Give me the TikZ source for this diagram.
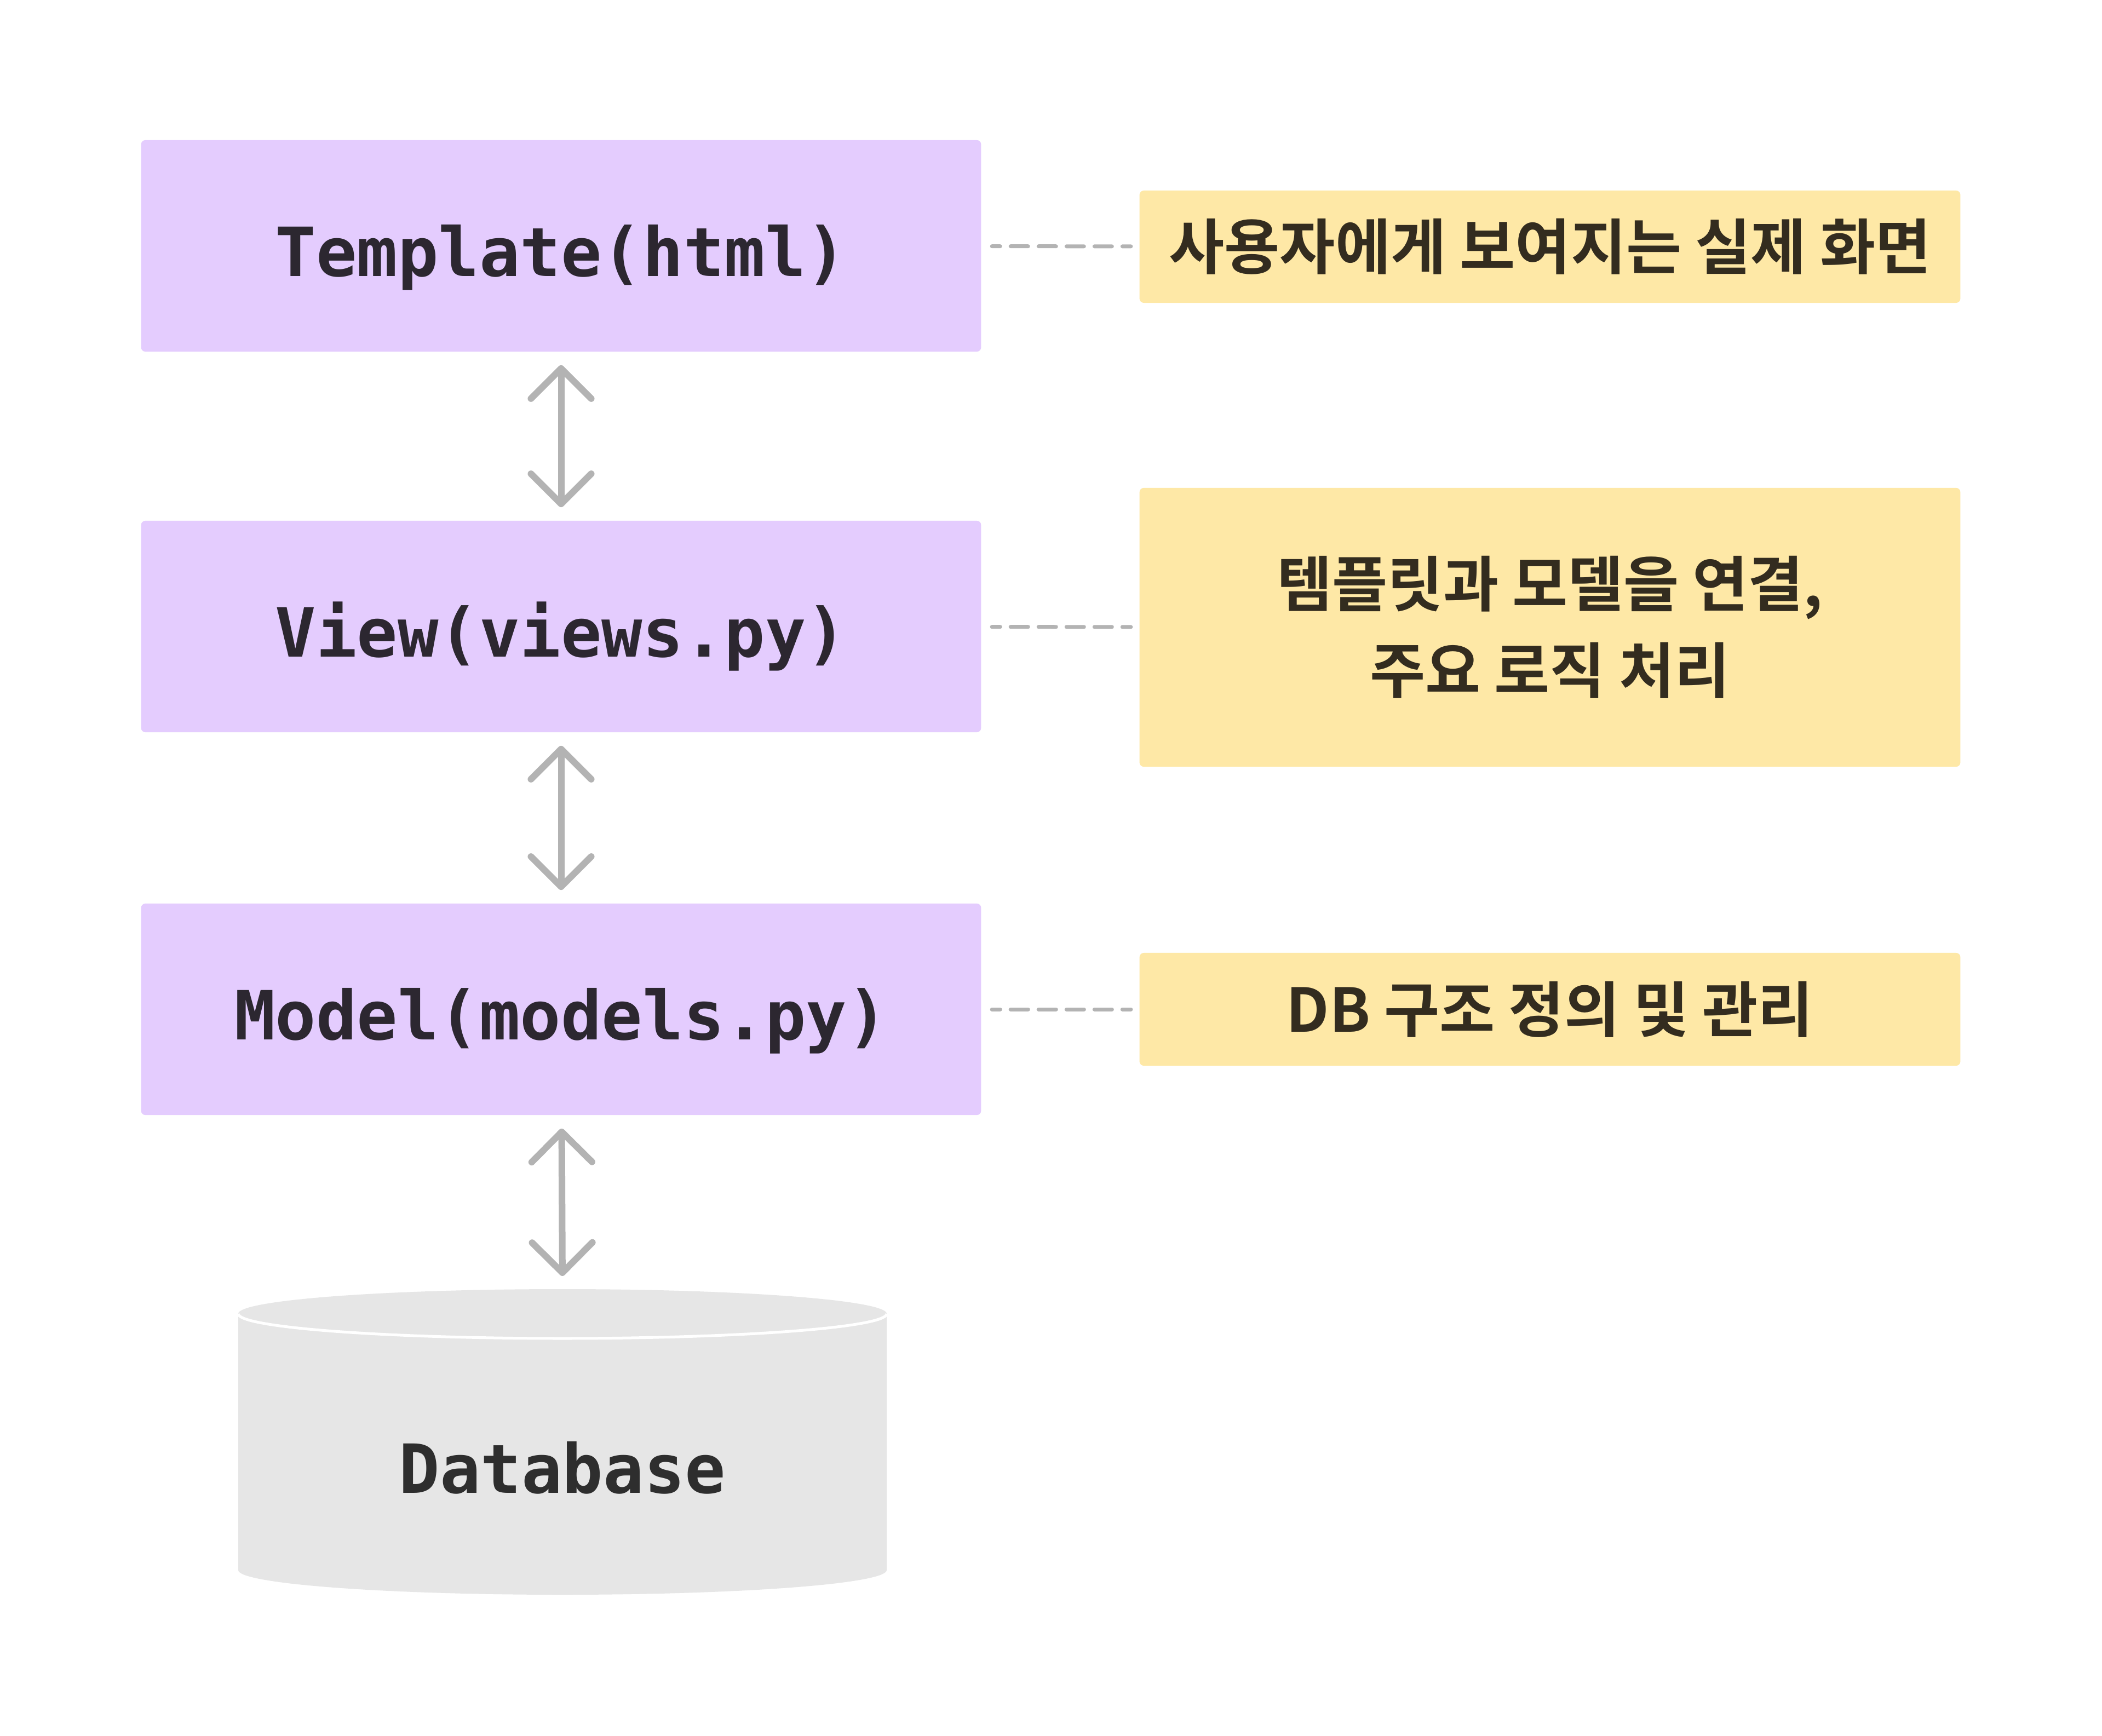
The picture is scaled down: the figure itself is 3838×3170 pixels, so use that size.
\documentclass[tikz,border=0pt]{standalone}
\usepackage{fontspec}
\usetikzlibrary{arrows.meta}
\newfontfamily\codefont{DejaVu Sans Mono}
\newfontfamily\hangulfont{Noto Sans CJK KR}[BoldFont={Noto Sans CJK KR Bold}]
\definecolor{layerfill}{HTML}{E4CCFE}
\definecolor{notefill}{HTML}{FEE8A6}
\definecolor{dbfill}{HTML}{E6E6E6}
\definecolor{linkgray}{HTML}{B3B3B3}
\definecolor{codetext}{HTML}{2C2730}
\definecolor{dbtext}{HTML}{2E2E2E}
\definecolor{notetext}{HTML}{332C1F}
\tikzset{
	layer/.style={fill=layerfill, rounded corners=0.08cm, minimum width=15.33cm, minimum height=3.86cm, text=codetext, text height=31.6pt, text depth=0pt, font=\codefont\bfseries\fontsize{35.2}{40}\selectfont},
	note/.style={fill=notefill, rounded corners=0.08cm, minimum width=14.98cm, text=notetext, align=center, font=\hangulfont\bfseries\fontsize{31.3}{45}\selectfont},
	dblabel/.style={text=dbtext, font=\codefont\bfseries\fontsize{35.2}{40}\selectfont},
	biarrow/.style={draw=linkgray, line width=0.12cm, {Straight Barb[length=0.55cm,width=1.1cm,round]}-{Straight Barb[length=0.55cm,width=1.1cm,round]}, shorten <=0.24cm, shorten >=0.24cm},
	guide/.style={draw=linkgray, line width=0.07cm, line cap=round, dash pattern=on 0.32cm off 0.19cm, dash phase=0.17cm, shorten <=0.19cm, shorten >=0.15cm}
}

\begin{document}
\begin{tikzpicture}[x=0.01cm, y=-0.01cm]
		%%%%% START %%%%%
		
		\fill[white] (0, 0) rectangle (3838, 3170);
		\useasboundingbox (0, 0) rectangle (3838, 3170);
		
		\node[layer] (tmpl) at (1024.5, 449) {Template(html)};
		\node[layer] (view) at (1024.5, 1144) {View(views.py)};
		\node[layer] (model) at (1024.5, 1843) {Model(models.py)};
		
		\node[note, minimum height=2.05cm] (screen) at (2830, 450.5) {사용자에게 보여지는 실제 화면};
		\node[note, minimum height=5.09cm] (logic) at (2830, 1145.5) {템플릿과 모델을 연결,\\주요 로직 처리};
		\node[note, minimum height=2.06cm] (schema) at (2830, 1843) {DB 구조 정의 및 관리};
		
		\fill[dbfill] (435, 2399) -- (435, 2867) arc[start angle=180, end angle=0, x radius=592, y radius=45] -- (1619, 2399) arc[start angle=0, end angle=-180, x radius=592, y radius=45] -- cycle;
		\draw[white, line width=0.05cm] (435, 2399) arc[start angle=180, end angle=0, x radius=592, y radius=45];
		\node[dblabel] (db) at (1027, 2680) {Database};
		\coordinate (dbtop) at (1027, 2354);
		
		\draw[biarrow] (tmpl) -- (view);
		\draw[biarrow] (view) -- (model);
		\draw[biarrow] (model) -- (dbtop);
		
		\draw[guide] (tmpl) -- (screen);
		\draw[guide] (view) -- (logic);
		\draw[guide] (model) -- (schema);
		
		%%%%% END %%%%%
	\end{tikzpicture}
\end{document}
